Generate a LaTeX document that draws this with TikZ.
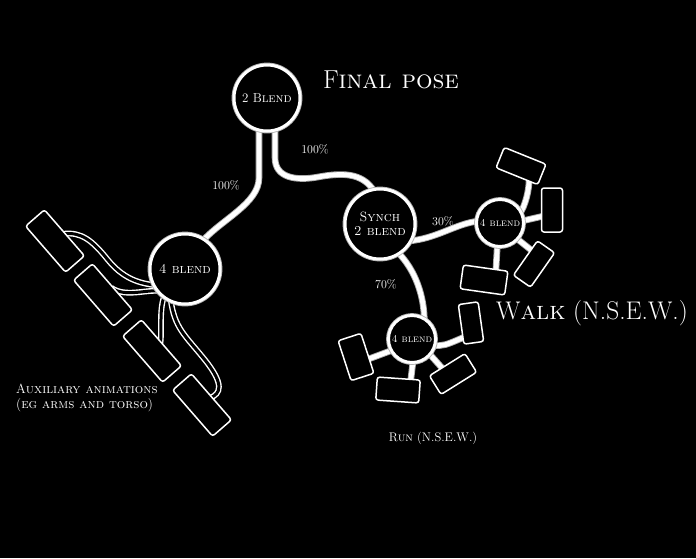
\documentclass[tikz,border=0pt]{standalone}
\usetikzlibrary{calc}
\pgfdeclarelayer{bg}
\pgfdeclarelayer{wires}
\pgfsetlayers{bg,wires,main}
\begin{document}
\begin{tikzpicture}[x=1pt,y=-1pt,
  wire/.style={draw=gray!65, double=white, double distance=4.8pt, line width=0.9pt},
  aux/.style={draw=white, double=black, double distance=3pt, line width=1.4pt},
  blendc/.style={circle, fill=black, draw=white, line width=3pt, inner sep=0pt, outer sep=-2pt,
     text=white, align=center, preaction={draw=gray!60, line width=4.8pt}},
  anim/.style={rectangle, rounded corners=2.5pt, fill=black, draw=white, line width=1.5pt,
     inner sep=0pt, outer sep=-1.5pt},
  lbl/.style={text=white, inner sep=0pt}]
\begin{pgfonlayer}{bg}
\fill[black] (0,0) rectangle (696,558);
\end{pgfonlayer}
\useasboundingbox (0,0) rectangle (696,558);

% blend circles
\node[blendc, minimum size=66pt, font=\fontsize{13}{15}\selectfont] (fin) at (267,98) {2 B\textsc{lend}};
\node[blendc, minimum size=70pt, font=\fontsize{13.5}{15}\selectfont] (lb) at (185,269) {\textsc{4 blend}};
\node[blendc, minimum size=70pt, font=\fontsize{13.5}{14}\selectfont] (sy) at (380,224) {S\textsc{ynch}\\\textsc{2 blend}};
\node[blendc, minimum size=47pt, font=\fontsize{10.5}{12}\selectfont] (wk) at (500,223) {\textsc{4 blend}};
\node[blendc, minimum size=47pt, font=\fontsize{10.5}{12}\selectfont] (rn) at (412,339) {\textsc{4 blend}};

% auxiliary animation boxes
\node[anim, minimum width=61pt, minimum height=25pt, rotate=-49] (a1) at (55,241) {};
\node[anim, minimum width=61pt, minimum height=25pt, rotate=-49] (a2) at (103,295) {};
\node[anim, minimum width=61pt, minimum height=25pt, rotate=-49] (a3) at (152,351) {};
\node[anim, minimum width=61pt, minimum height=25pt, rotate=-49] (a4) at (202,405) {};

% walk boxes
\node[anim, minimum width=45pt, minimum height=22pt, rotate=-22] (w1) at (521,166) {};
\node[anim, minimum width=21pt, minimum height=44pt] (w2) at (552,210) {};
\node[anim, minimum width=42pt, minimum height=21pt, rotate=55] (w3) at (534,264) {};
\node[anim, minimum width=45pt, minimum height=24pt, rotate=-8] (w4) at (484,280) {};

% run boxes
\node[anim, minimum width=24pt, minimum height=42pt, rotate=18] (r1) at (356,357) {};
\node[anim, minimum width=43pt, minimum height=23pt, rotate=-4] (r2) at (398,390) {};
\node[anim, minimum width=42pt, minimum height=22pt, rotate=32] (r3) at (453,374) {};
\node[anim, minimum width=20pt, minimum height=40pt, rotate=8] (r4) at (471,323) {};

\coordinate (m1) at (318,177);
\coordinate (m2) at (108,260);
\coordinate (m3) at (205,360);

\begin{pgfonlayer}{wires}
% main connectors
\draw[wire] (fin.-105) -- ++(0,50) .. controls +(0,25) and +(20,-22) .. (lb.58);
\draw[wire] (fin.-75) -- ++(0,30) .. controls +(0,20) and +(-22,4) .. (m1)
   .. controls +(22,-4) and +(-12,-20) .. (sy.100);
\draw[wire] (sy.-31) .. controls +(28,-2) and +(-22,2) .. (wk.175);
\draw[wire] (sy.-58) .. controls +(18,18) and +(0,-25) .. (rn.55);
% walk spokes
\draw[wire] (wk.25) .. controls +(6,-8) and +(0,10) .. ($(w1.south)!0.6!(w1.south east)$);
\draw[wire] (wk.5) -- ($(w2.west)!0.3!(w2.south west)$);
\draw[wire] (wk.-43) -- ($(w3.north)!0.5!(w3.north east)$);
\draw[wire] (wk.-97) -- ($(w4.north)!0.5!(w4.north east)$);
% run spokes
\draw[wire] (rn.210) -- ($(r1.east)!0.3!(r1.south east)$);
\draw[wire] (rn.-87) -- ($(r2.north)!0.6!(r2.north east)$);
\draw[wire] (rn.-40) -- ($(r3.north)!0.3!(r3.north west)$);
\draw[wire] (rn.-18) .. controls +(12,0) .. ($(r4.west)!0.7!(r4.south west)$);
% auxiliary connectors
\draw[aux] (a1.north) .. controls +(18,-2) and +(-16,-20) .. (m2)
   .. controls +(18,22) and +(-12,-2) .. (lb.210);
\draw[aux] (a2.north) .. controls +(14,10) and +(-14,-2) .. (lb.222);
\draw[aux] (lb.232) .. controls +(-6,14) and +(2,-14) .. (a3.north);
\draw[aux] (lb.244) .. controls +(4,30) and +(-20,-25) .. (m3)
   .. controls +(20,25) and +(10,-4) .. (a4.north);
\end{pgfonlayer}

% labels
\node[lbl, font=\fontsize{26}{28}\selectfont] (tfin) at (391,80) {F\textsc{inal pose}};
\node[lbl, font=\fontsize{25.5}{27}\selectfont] (twk) at (592,313) {W\textsc{alk} (N.S.E.W.)};
\node[lbl, font=\fontsize{12.5}{14}\selectfont] (trn) at (433,438) {R\textsc{un} (N.S.E.W.)};
\node[lbl, font=\fontsize{13.3}{14.5}\selectfont, align=left, anchor=west] (taux) at (16,398)
  {A\textsc{uxiliary animations}\\(\textsc{eg arms and torso})};
\node[lbl, font=\fontsize{12}{14}\selectfont] (p1) at (226,185) {100\%};
\node[lbl, font=\fontsize{12}{14}\selectfont] (p2) at (315,149) {100\%};
\node[lbl, font=\fontsize{12}{14}\selectfont] (p3) at (443,221) {30\%};
\node[lbl, font=\fontsize{12}{14}\selectfont] (p4) at (386,284) {70\%};
\end{tikzpicture}
\end{document}
